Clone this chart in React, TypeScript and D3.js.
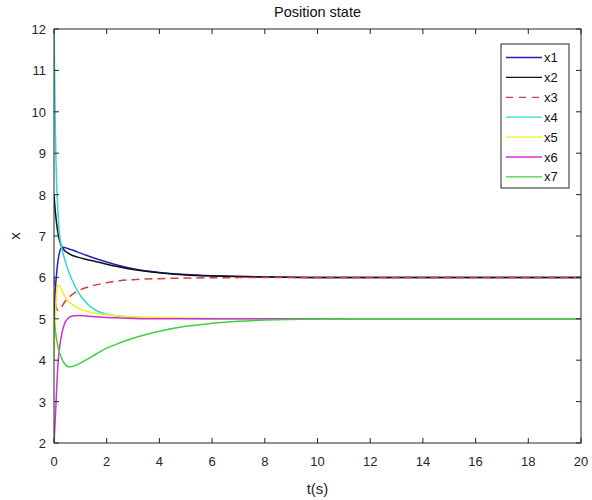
import React from "react";
import * as d3 from "d3";

// time samples (dense near t=0 where the transients are)
const times = [0, 0.05, 0.1, 0.15, 0.2, 0.3, 0.4, 0.55, 0.7, 0.9, 1.2, 1.6, 2, 2.5, 3, 4, 5, 6, 7, 8, 10, 12, 15, 20];

const x1 = [5.0, 5.7, 6.1, 6.4, 6.58, 6.73, 6.72, 6.69, 6.66, 6.61, 6.54, 6.45, 6.37, 6.28, 6.21, 6.12, 6.07, 6.04, 6.02, 6.01, 6.0, 6.0, 6.0, 6.0];
const x2 = [8.0, 7.6, 7.3, 7.07, 6.92, 6.73, 6.65, 6.58, 6.53, 6.49, 6.44, 6.38, 6.32, 6.25, 6.19, 6.11, 6.06, 6.035, 6.02, 6.01, 6.0, 6.0, 6.0, 6.0];
const x3 = [6.0, 5.5, 5.25, 5.2, 5.22, 5.3, 5.4, 5.51, 5.59, 5.67, 5.75, 5.82, 5.87, 5.92, 5.945, 5.97, 5.985, 5.99, 5.995, 6.0, 6.0, 6.0, 6.0, 6.0];
const x4 = [12.0, 9.6, 8.3, 7.6, 7.1, 6.7, 6.45, 6.15, 5.92, 5.66, 5.4, 5.2, 5.11, 5.06, 5.04, 5.02, 5.01, 5.0, 5.0, 5.0, 5.0, 5.0, 5.0, 5.0];
const x5 = [4.0, 5.0, 5.6, 5.8, 5.8, 5.68, 5.55, 5.42, 5.34, 5.26, 5.19, 5.13, 5.1, 5.07, 5.05, 5.03, 5.015, 5.005, 5.0, 5.0, 5.0, 5.0, 5.0, 5.0];
const x6 = [2.0, 2.6, 3.3, 3.9, 4.25, 4.65, 4.88, 5.02, 5.07, 5.08, 5.07, 5.05, 5.03, 5.02, 5.01, 5.0, 5.0, 5.0, 5.0, 5.0, 5.0, 5.0, 5.0, 5.0];
const x7 = [5.0, 4.72, 4.5, 4.33, 4.2, 4.03, 3.92, 3.84, 3.85, 3.9, 4.0, 4.15, 4.29, 4.42, 4.53, 4.7, 4.82, 4.89, 4.94, 4.97, 4.995, 5.0, 5.0, 5.0];

const seriesNames = ["x1", "x2", "x3", "x4", "x5", "x6", "x7"];
const seriesValues = [x1, x2, x3, x4, x5, x6, x7];
const colors = ["#2020c8", "#111111", "#d04040", "#30d8d8", "#f0f020", "#d030d0", "#40d040"];

const xTicks = [0, 2, 4, 6, 8, 10, 12, 14, 16, 18, 20];
const yTicks = [2, 3, 4, 5, 6, 7, 8, 9, 10, 11, 12];

const W = 592, H = 500;
const M = { top: 29, right: 11, bottom: 57, left: 54 };
const axisColor = "#262626";
const font = "'Liberation Sans', Arial, sans-serif";

export default function App() {
  const x = d3.scaleLinear().domain([0, 20]).range([M.left, W - M.right]);
  const y = d3.scaleLinear().domain([2, 12]).range([H - M.bottom, M.top]);
  const line = d3.line<number>()
    .x((_, i) => x(times[i]))
    .y(d => y(d))
    .curve(d3.curveMonotoneX);

  const x0 = x(0), xe = x(20), y0 = y(2), ye = y(12);
  const tl = 5;

  return (
    <svg width={W} height={H} style={{ position: "absolute", left: 0, top: 0, background: "#fff", fontFamily: font }}>
      <defs>
        <clipPath id="plot">
          <rect x={x0} y={ye} width={xe - x0} height={y0 - ye} />
        </clipPath>
      </defs>

      <g clipPath="url(#plot)">
        {seriesValues.map((vals, i) => (
          <path key={i} d={line(vals) || ""} fill="none" stroke={colors[i]} strokeWidth={1.5}
            strokeDasharray={i === 2 ? "8,5" : undefined} />
        ))}
      </g>

      {/* box + ticks */}
      <rect x={x0} y={ye} width={xe - x0} height={y0 - ye} fill="none" stroke={axisColor} strokeWidth={1} />
      {xTicks.map(t => (
        <g key={"xt" + t}>
          <line x1={x(t)} x2={x(t)} y1={y0} y2={y0 - tl} stroke={axisColor} />
          <line x1={x(t)} x2={x(t)} y1={ye} y2={ye + tl} stroke={axisColor} />
          <text x={x(t)} y={y0 + 23} textAnchor="middle" fontSize={13} fill={axisColor}>{t}</text>
        </g>
      ))}
      {yTicks.map(v => (
        <g key={"yt" + v}>
          <line x1={x0} x2={x0 + tl} y1={y(v)} y2={y(v)} stroke={axisColor} />
          <line x1={xe} x2={xe - tl} y1={y(v)} y2={y(v)} stroke={axisColor} />
          <text x={x0 - 8} y={y(v) + 5} textAnchor="end" fontSize={13} fill={axisColor}>{v}</text>
        </g>
      ))}

      <text x={(x0 + xe) / 2} y={17} textAnchor="middle" fontSize={14.5} fill="#111">Position state</text>
      <text x={(x0 + xe) / 2} y={494} textAnchor="middle" fontSize={15} fill={axisColor}>t(s)</text>
      <text transform={`translate(20,${(y0 + ye) / 2}) rotate(-90)`} textAnchor="middle" fontSize={15} fill={axisColor}>x</text>

      {/* legend */}
      <rect x={501} y={44} width={68} height={144} fill="#fff" stroke={axisColor} strokeWidth={1} />
      {seriesNames.map((n, i) => {
        const ly = 57.5 + i * 19.9;
        return (
          <g key={n}>
            <line x1={506} x2={542} y1={ly} y2={ly} stroke={colors[i]} strokeWidth={1.3}
              strokeDasharray={i === 2 ? "7,6" : undefined} />
            <text x={544} y={ly + 4.5} fontSize={13} fill="#111">{n}</text>
          </g>
        );
      })}
    </svg>
  );
}
